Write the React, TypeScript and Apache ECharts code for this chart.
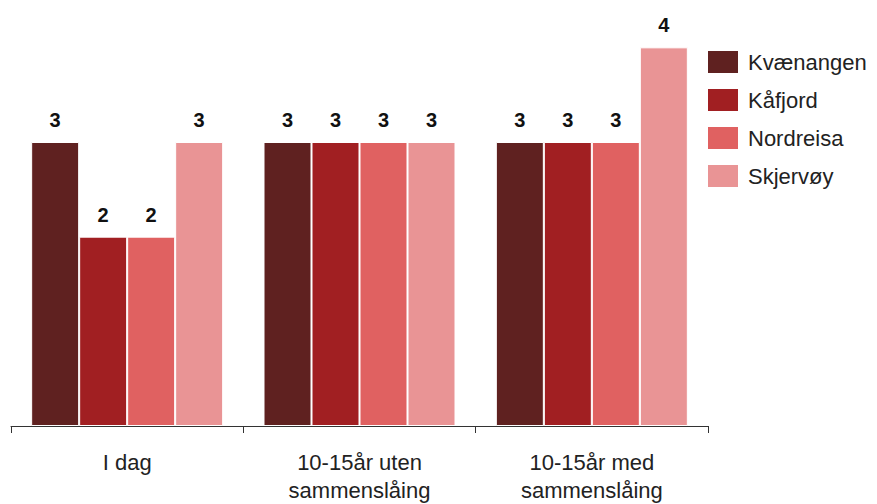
import React, { useEffect, useRef } from "react";
import * as echarts from "echarts";

const categories = ["I dag", "10-15år uten\nsammenslåing", "10-15år med\nsammenslåing"];
const seriesNames = ["Kvænangen", "Kåfjord", "Nordreisa", "Skjervøy"];
const kvaenangen = [3, 3, 3];
const kafjord = [2, 3, 3];
const nordreisa = [2, 3, 3];
const skjervoy = [3, 3, 4];
const colors = ["#5f2120", "#a11f22", "#e06161", "#e99495"];

export default function App() {
  const ref = useRef<HTMLDivElement>(null);
  useEffect(() => {
    if (!ref.current) return;
    const chart = echarts.init(ref.current, undefined, { renderer: "svg" });
    const values = [kvaenangen, kafjord, nordreisa, skjervoy];
    chart.setOption({
      animation: false,
      grid: { left: 11, right: 169, top: 0, bottom: 77 },
      legend: {
        orient: "vertical",
        left: 701,
        top: 44,
        itemWidth: 32,
        itemHeight: 24,
        itemGap: 12,
        icon: "rect",
        data: seriesNames,
        textStyle: { fontSize: 22, color: "#222", fontFamily: "Liberation Sans, Arial, sans-serif", padding: [0, 0, 0, 4] },
      },
      xAxis: {
        type: "category",
        data: categories,
        axisLine: { lineStyle: { color: "#333", width: 1 } },
        axisTick: { show: true, length: 7, lineStyle: { color: "#333" } },
        axisLabel: {
          fontSize: 22,
          lineHeight: 28,
          margin: 22,
          color: "#222",
          fontFamily: "Liberation Sans, Arial, sans-serif",
        },
      },
      yAxis: {
        type: "value",
        min: 0,
        max: 4.5,
        show: false,
        splitLine: { show: false },
      },
      series: seriesNames.map((name, i) => ({
        name,
        type: "bar",
        data: values[i],
        barWidth: 48,
        barGap: "0%",
        itemStyle: { color: colors[i], borderColor: "#fff", borderWidth: 1 },
        label: {
          show: true,
          position: "top",
          distance: 12,
          fontSize: 20,
          fontWeight: "bold",
          color: "#111",
          fontFamily: "Liberation Sans, Arial, sans-serif",
        },
      })),
    });
    return () => chart.dispose();
  }, []);
  return (
    <div
      ref={ref}
      style={{ position: "absolute", left: 0, top: 0, width: 877, height: 504, background: "#fff" }}
    />
  );
}
